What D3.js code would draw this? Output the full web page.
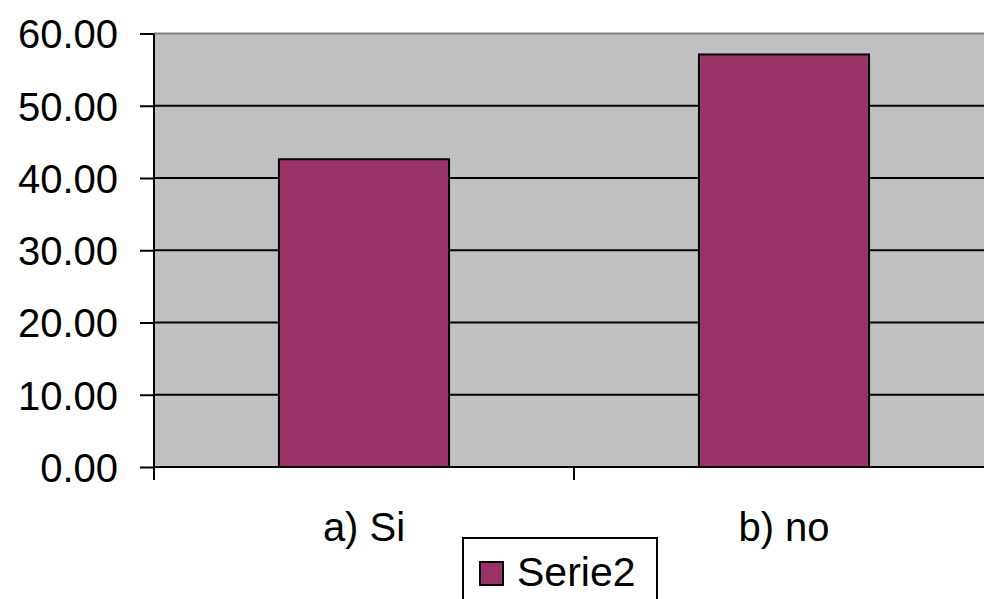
<!DOCTYPE html>
<html>
<head>
<meta charset="utf-8">
<script src="https://cdn.jsdelivr.net/npm/d3@7"></script>
<style>
  html, body { margin: 0; padding: 0; background: #fff; }
  svg { display: block; }
  text { font-family: "Liberation Sans", Arial, sans-serif; fill: #000; }
</style>
</head>
<body>
<svg id="chart" width="984" height="599"></svg>
<script>
const categories = ["a) Si", "b) no"];
const seriesName = "Serie2";
const values = [42.6, 57.1];
const yTicks = [0, 10, 20, 30, 40, 50, 60];

const W = 984, H = 599;
const plot = { left: 154, right: 994, top: 33.5, bottom: 467 };
const barColor = "#993366";
const plotBg = "#c0c0c0";

const svg = d3.select("#chart");

const x = d3.scaleBand().domain(categories).range([plot.left, plot.right]).padding(0);
const y = d3.scaleLinear().domain([0, 60]).range([plot.bottom, plot.top]);
const barW = x.bandwidth() * 0.405;

// plot background
svg.append("rect")
  .attr("x", plot.left).attr("y", plot.top)
  .attr("width", plot.right - plot.left).attr("height", plot.bottom - plot.top)
  .attr("fill", plotBg);

// top border
svg.append("line")
  .attr("x1", plot.left).attr("x2", plot.right)
  .attr("y1", plot.top).attr("y2", plot.top)
  .attr("stroke", "#808080").attr("stroke-width", 2);

// gridlines
svg.append("g")
  .selectAll("line")
  .data(yTicks.filter(d => d > 0 && d < 60))
  .join("line")
  .attr("x1", plot.left).attr("x2", plot.right)
  .attr("y1", d => y(d)).attr("y2", d => y(d))
  .attr("stroke", "#000").attr("stroke-width", 2);

// bars
svg.append("g")
  .selectAll("rect")
  .data(values)
  .join("rect")
  .attr("x", (d, i) => x(categories[i]) + (x.bandwidth() - barW) / 2)
  .attr("y", d => y(d))
  .attr("width", barW)
  .attr("height", d => y(0) - y(d))
  .attr("fill", barColor)
  .attr("stroke", "#000")
  .attr("stroke-width", 2);

// y axis
const yAxis = d3.axisLeft(y)
  .tickValues(yTicks)
  .tickFormat(d3.format(".2f"))
  .tickSize(14)
  .tickPadding(22);
const gy = svg.append("g")
  .attr("transform", `translate(${plot.left},0)`)
  .call(yAxis);
gy.select(".domain").attr("stroke", "#000").attr("stroke-width", 2)
  .attr("d", `M0,${plot.top}V${plot.bottom + 13}`);
gy.selectAll(".tick line").attr("stroke", "#000").attr("stroke-width", 2);
gy.selectAll(".tick text")
  .attr("font-size", 40)
  .attr("font-family", "'Liberation Sans', Arial, sans-serif")
  .attr("fill", "#000")
  .attr("dy", "0.36em");

// x axis
const xBoundary = d3.scalePoint().domain(d3.range(categories.length + 1)).range([plot.left, plot.right]);
const gx = svg.append("g");
gx.append("line")
  .attr("x1", plot.left).attr("x2", plot.right)
  .attr("y1", plot.bottom).attr("y2", plot.bottom)
  .attr("stroke", "#000").attr("stroke-width", 2);
gx.selectAll("line.tk")
  .data(d3.range(categories.length + 1))
  .join("line")
  .attr("class", "tk")
  .attr("x1", d => xBoundary(d)).attr("x2", d => xBoundary(d))
  .attr("y1", plot.bottom).attr("y2", plot.bottom + 13)
  .attr("stroke", "#000").attr("stroke-width", 2);
gx.selectAll("text")
  .data(categories)
  .join("text")
  .attr("x", d => x(d) + x.bandwidth() / 2)
  .attr("y", 541)
  .attr("text-anchor", "middle")
  .attr("font-size", 40)
  .text(d => d);

// legend
const lg = svg.append("g");
lg.append("rect")
  .attr("x", 463).attr("y", 538)
  .attr("width", 194).attr("height", 80)
  .attr("fill", "#fff").attr("stroke", "#000").attr("stroke-width", 2);
lg.append("rect")
  .attr("x", 480).attr("y", 562)
  .attr("width", 23).attr("height", 23)
  .attr("fill", barColor).attr("stroke", "#000").attr("stroke-width", 2);
lg.append("text")
  .attr("x", 517).attr("y", 586)
  .attr("font-size", 41)
  .text(seriesName);
</script>
</body>
</html>
